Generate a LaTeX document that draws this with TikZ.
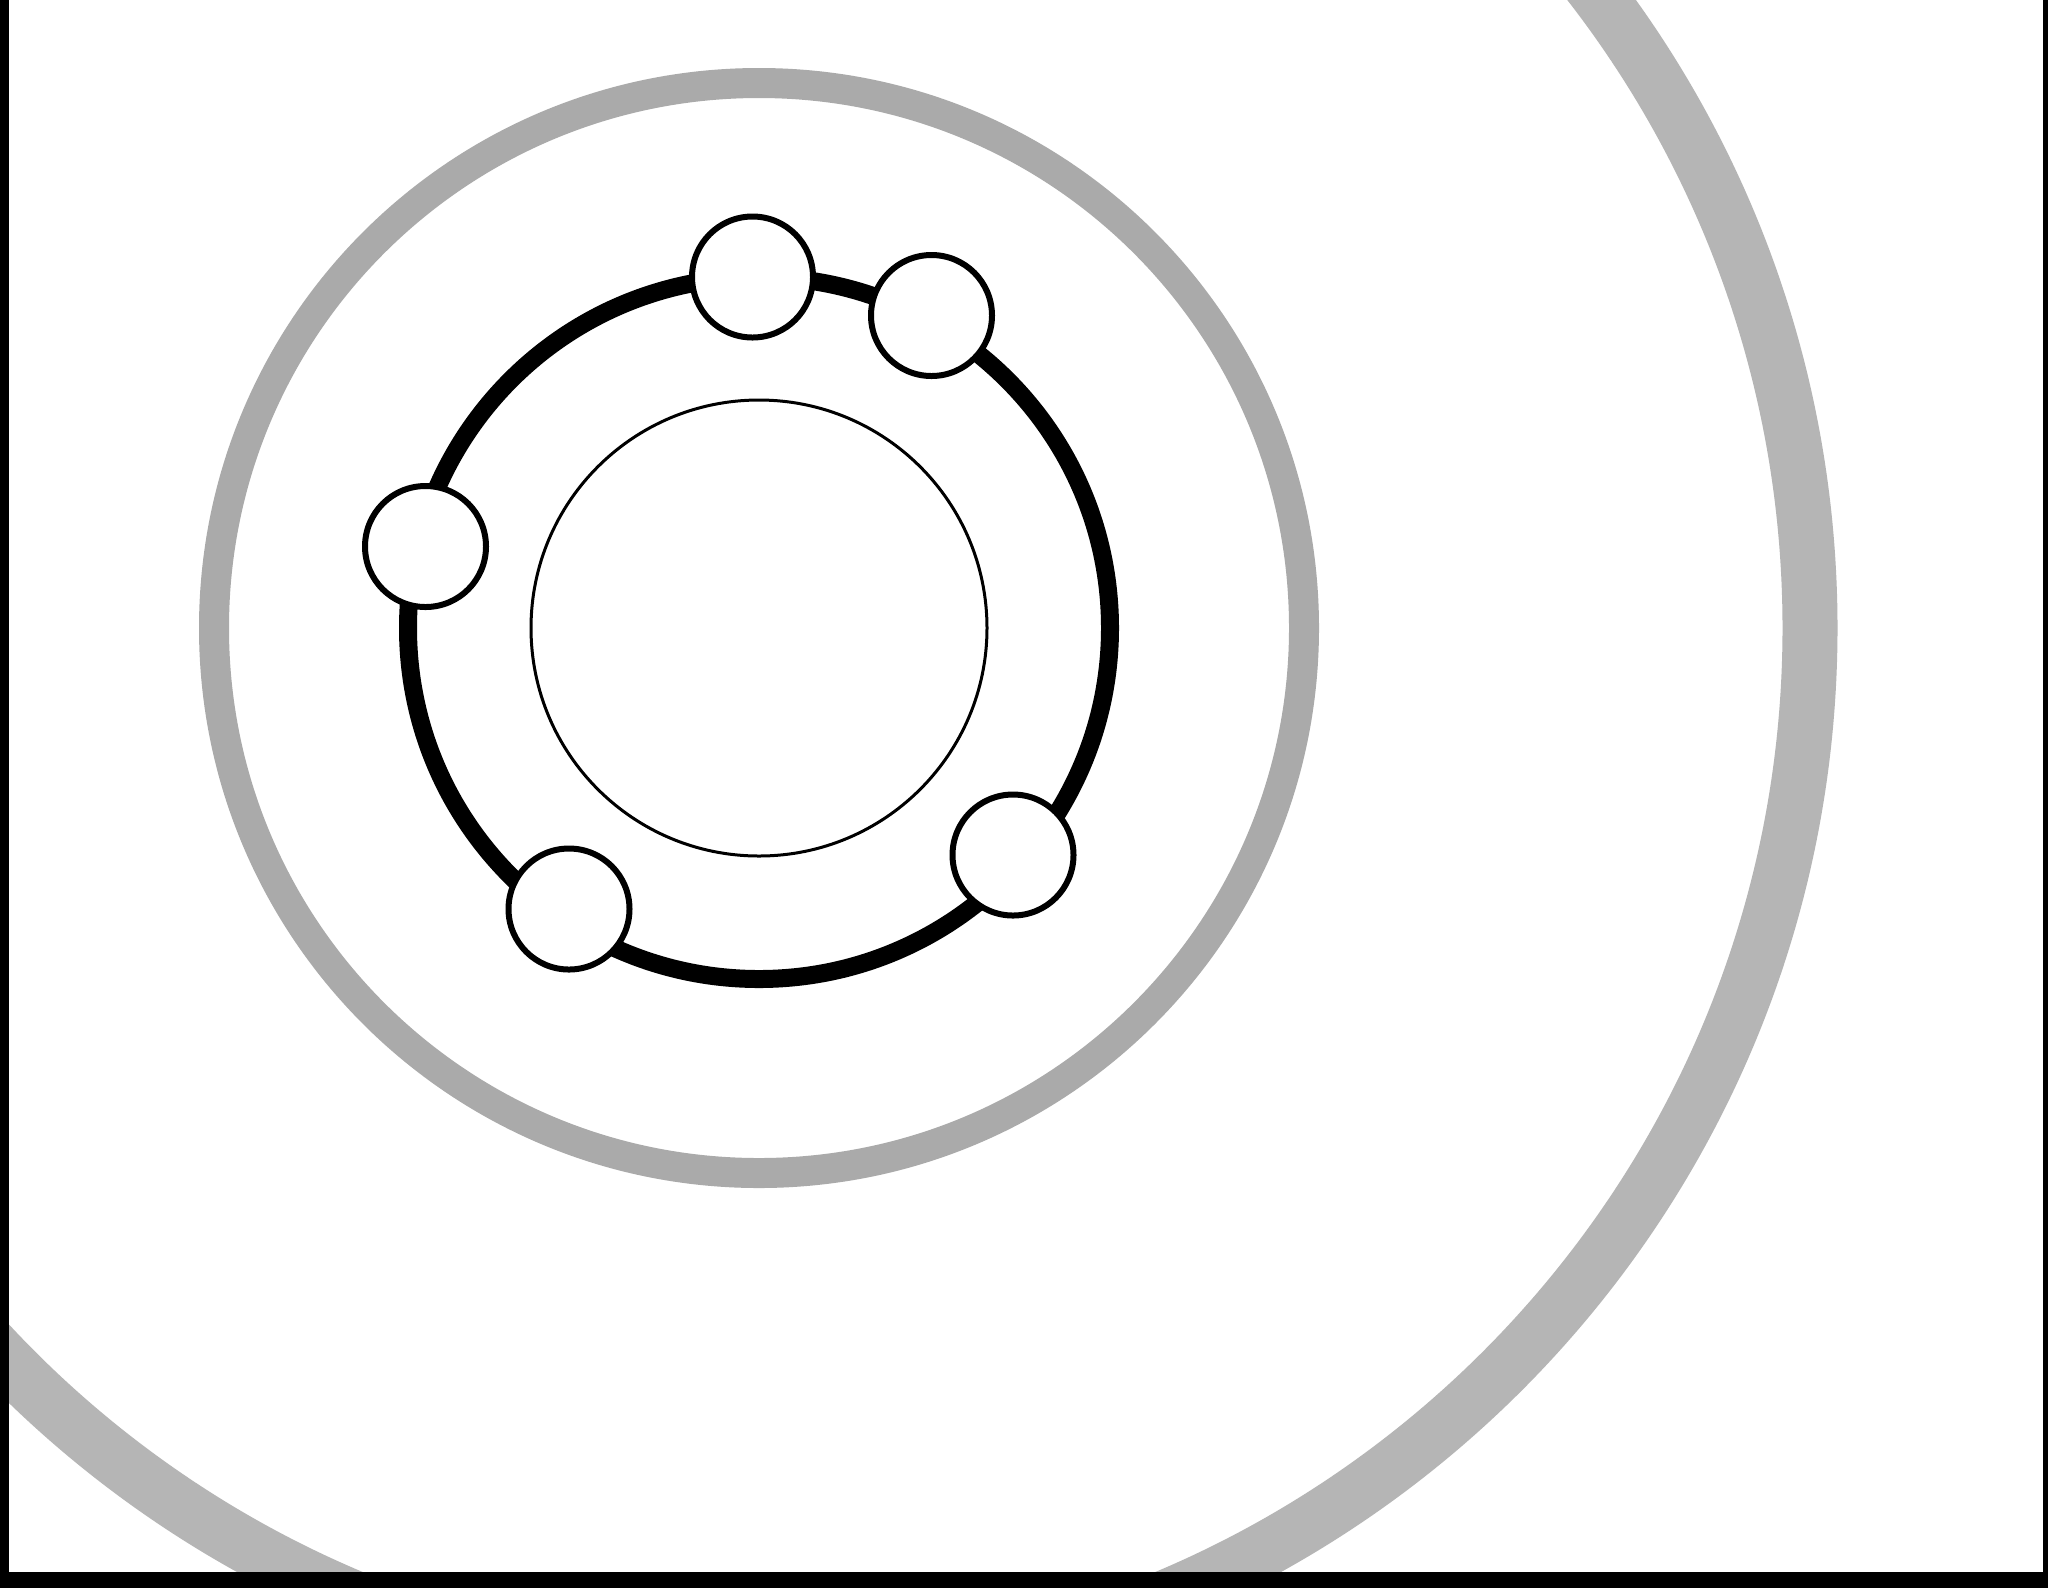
\documentclass[tikz,border=0pt]{standalone}
\definecolor{bigring}{HTML}{B5B5B5}
\definecolor{midring}{HTML}{AAAAAA}
\tikzset{
  bead/.style={circle, draw=black, fill=white, line width=3pt, inner sep=0pt, minimum size=60.5pt},
  framebar/.style={fill=black, draw=none}
}
\begin{document}
\begin{tikzpicture}[x=0.5pt,y=-0.5pt]
  \fill[white] (0,0) rectangle (2048,1587);
  \useasboundingbox (0,0) rectangle (2048,1587);
  \coordinate (c) at (759,628);
  \begin{scope}
    \clip (0,0) rectangle (2048,1572);
    \draw[bigring, line width=27.5pt] (c) circle[radius=525.5pt];
  \end{scope}
  \draw[midring, line width=15pt] (c) circle[radius=272.5pt];
  \draw[black, line width=1.5pt] (c) circle[radius=114pt];
  \draw[black, line width=9pt] (c) circle[radius=175.5pt];
  \node[bead] (n1) at (752.5,277) {};
  \node[bead] (n2) at (931.5,315.5) {};
  \node[bead] (n3) at (425.5,546.5) {};
  \node[bead] (n4) at (569,909) {};
  \node[bead] (n5) at (1013,855) {};
  \fill[framebar] (-10,-10) rectangle (9,1600);
  \fill[framebar] (2043,-10) rectangle (2060,1600);
  \fill[framebar] (-10,1572) rectangle (2060,1600);
\end{tikzpicture}
\end{document}
